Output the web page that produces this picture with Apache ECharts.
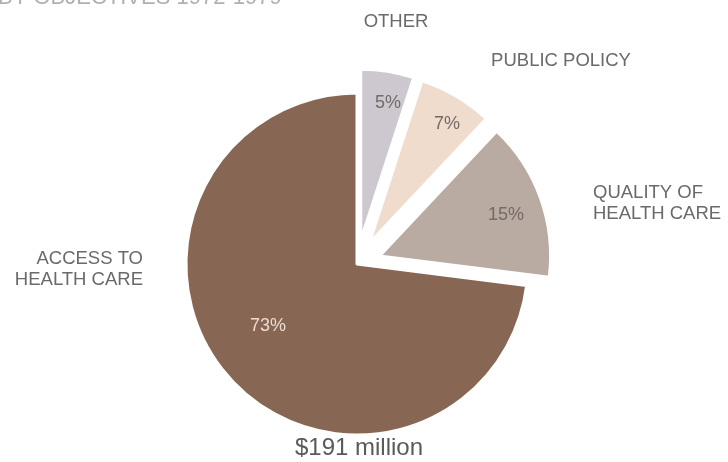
<!DOCTYPE html>
<html>
<head>
<meta charset="utf-8">
<script src="https://cdn.jsdelivr.net/npm/echarts@6/dist/echarts.min.js"></script>
<style>
  html, body { margin: 0; padding: 0; background: #fff; }
  #chart { width: 728px; height: 462px; }
</style>
</head>
<body>
<div id="chart"></div>
<script>
// Grant objectives, share of total (percent), clockwise from 12 o'clock
const categories = ['OTHER', 'PUBLIC POLICY', 'QUALITY OF\nHEALTH CARE', 'ACCESS TO\nHEALTH CARE'];
const shares = [5, 7, 15, 73];
const pulledOut = [true, true, true, false];
const totalLabel = '$191 million';
const headline = 'BY OBJECTIVES 1972-1979';

const sliceColors = ['#cdc7cf', '#efdccd', '#b9aaa2', '#876754'];
const pctColors = ['#736b68', '#736b68', '#736b68', '#eddcd0'];

const CENTER = [357, 264];
const RADIUS = 171;
const FONT = '"Liberation Sans", Arial, sans-serif';

// label anchor points (px) for the percent labels and the category names
const pctAnchors = [[388, 103], [447, 124], [506, 215], [268, 326]];
const nameAnchors = [
  { x: 396, y: 22, align: 'center' },
  { x: 561, y: 61, align: 'center' },
  { x: 593, y: 203, align: 'left' },
  { x: 143, y: 269, align: 'right' }
];

const pieBase = {
  type: 'pie',
  center: CENTER,
  radius: [0, RADIUS],
  startAngle: 90,
  clockwise: true,
  avoidLabelOverlap: false,
  silent: true,
  emphasis: { disabled: true },
  labelLine: { show: false }
};

// slices; the three smaller objectives are pulled out of the pie
const sliceData = categories.map((name, i) => ({
  name: name,
  value: shares[i],
  selected: pulledOut[i],
  itemStyle: { color: sliceColors[i] }
}));

// invisible copies of the slices that only carry the text
const textData = (colorOf) => categories.map((name, i) => ({
  name: name,
  value: shares[i],
  itemStyle: { color: 'rgba(0,0,0,0)' },
  label: { color: colorOf(i) }
}));

const chart = echarts.init(document.getElementById('chart'), null, { renderer: 'canvas' });
chart.setOption({
  animation: false,
  backgroundColor: '#ffffff',
  series: [
    Object.assign({}, pieBase, {
      name: 'slices',
      data: sliceData,
      selectedMode: 'multiple',
      selectedOffset: 24,
      itemStyle: { borderColor: '#ffffff', borderWidth: 3 },
      label: { show: false }
    }),
    Object.assign({}, pieBase, {
      name: 'percent',
      data: textData(i => pctColors[i]),
      itemStyle: { borderWidth: 0 },
      label: {
        show: true,
        position: 'inside',
        formatter: p => p.value + '%',
        fontFamily: FONT,
        fontSize: 18
      },
      labelLayout: p => ({
        x: pctAnchors[p.dataIndex][0],
        y: pctAnchors[p.dataIndex][1],
        align: 'center',
        verticalAlign: 'middle'
      })
    }),
    Object.assign({}, pieBase, {
      name: 'names',
      data: textData(() => '#6a6a6a'),
      itemStyle: { borderWidth: 0 },
      label: {
        show: true,
        position: 'inside',
        formatter: p => p.name,
        fontFamily: FONT,
        fontSize: 18.5,
        lineHeight: 21
      },
      labelLayout: p => ({
        x: nameAnchors[p.dataIndex].x,
        y: nameAnchors[p.dataIndex].y,
        align: nameAnchors[p.dataIndex].align,
        verticalAlign: 'middle'
      })
    })
  ],
  graphic: [
    {
      type: 'text',
      left: -2,
      top: -13,
      style: {
        text: headline,
        font: '22px ' + FONT,
        fill: '#b0b0b0'
      }
    },
    {
      type: 'text',
      x: 359,
      y: 448,
      style: {
        text: totalLabel,
        font: '24px ' + FONT,
        fill: '#5a5a5a',
        align: 'center',
        verticalAlign: 'middle'
      }
    }
  ]
});
</script>
</body>
</html>
